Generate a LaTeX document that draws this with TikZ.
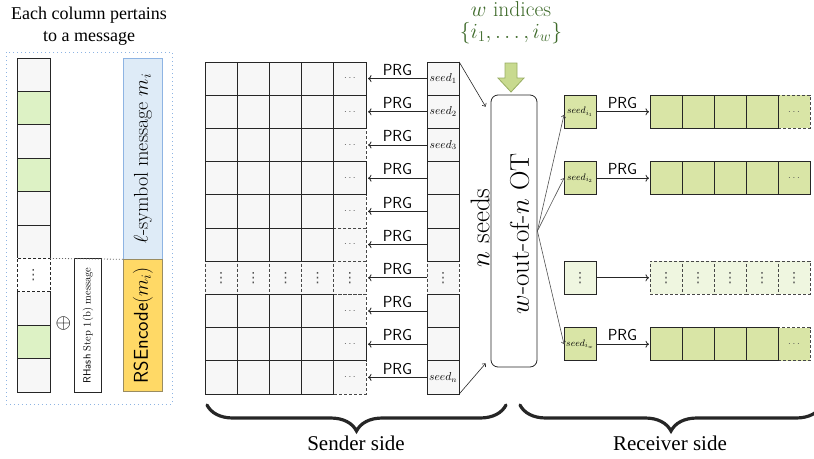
\RequirePackage{fix-cm}
\documentclass[tikz,border=0pt]{standalone}
\usepackage{fontspec}
\newfontfamily\timesf{Liberation Serif}
\newfontfamily\dvf{DejaVu Sans}
\usetikzlibrary{decorations.pathreplacing,arrows.meta,calc}
\definecolor{cellgray}{HTML}{F7F7F7}
\definecolor{lgreen}{HTML}{DDF2C5}
\definecolor{rgreen}{HTML}{D9E5A6}
\definecolor{rlgreen}{HTML}{EFF6E0}
\definecolor{bluefill}{HTML}{DEEBF7}
\definecolor{blueline}{HTML}{8EB4E3}
\definecolor{yellowfill}{HTML}{FFD966}
\definecolor{yellowline}{HTML}{9A8C60}
\definecolor{idxgreen}{HTML}{3E6A2A}
\definecolor{blockfill}{HTML}{C8DA8F}
\definecolor{blockline}{HTML}{98AD62}
\definecolor{ink}{HTML}{262626}
\newcommand{\vdt}{{\dvf ⋮}}
\begin{document}
\begin{tikzpicture}[x=1pt,y=-1pt,
  ln/.style={draw=ink,line width=0.8pt},
  gcell/.style={ln,fill=cellgray,minimum width=32.2pt,minimum height=33.2pt,inner sep=0pt,outer sep=0pt,anchor=north west},
  gdash/.style={gcell,draw=ink!85,dash pattern=on 3pt off 2pt},
  lcell/.style={ln,fill=cellgray,minimum width=33pt,minimum height=33.4pt,inner sep=0pt,outer sep=0pt,anchor=north west},
  rcell/.style={ln,fill=rgreen,minimum width=32pt,minimum height=33.2pt,inner sep=0pt,outer sep=0pt,anchor=north west},
  rdash/.style={rcell,draw=ink!85,dash pattern=on 3pt off 2pt},
  prgarrow/.style={draw=ink,dash pattern=on 200pt off 0pt,line width=0.85pt,-{To[length=3.5pt,width=7pt]}},
  fanarrow/.style={draw=ink!80,solid,line width=0.6pt,-{To[length=3pt,width=5pt]}},
  prglabel/.style={midway,above,yshift=2pt,inner sep=1pt,font=\sffamily\fontsize{16}{17}\selectfont},
  dotsf/.style={inner sep=0pt,font=\fontsize{10}{12}\selectfont,text=ink!80},
  vdotsf/.style={inner sep=0pt,font=\fontsize{14}{15}\selectfont,text=ink!80},
  seedf/.style={inner sep=0pt,font=\fontsize{11.5}{13}\selectfont},
  rseedf/.style={inner sep=0pt,font=\fontsize{9.5}{11}\selectfont},
  brace/.style={decorate,decoration={brace,amplitude=26pt},line width=3.2pt,draw=ink,line cap=round},
  bigtext/.style={font=\timesf\fontsize{21}{24}\selectfont}
]
\useasboundingbox (0,0) rectangle (814,458);
\clip (0,0) rectangle (814,458);

% ---------------- left panel ----------------
\node[font=\timesf\fontsize{18}{22}\selectfont,align=center] (title) at (89,26) {Each column pertains\\to a message};
\draw[blueline,line width=1pt,dash pattern=on 1.1pt off 2.9pt] (6,52) rectangle (172,404);

\foreach \k/\f in {1/cellgray,2/lgreen,3/cellgray,4/lgreen,5/cellgray,6/cellgray,8/cellgray,9/lgreen,10/cellgray}
  \node[lcell,fill=\f] (L\k) at (17,{58+33.4*(\k-1)}) {};
\node[lcell,fill=white,dash pattern=on 3pt off 2pt] (L7) at (17,{58+33.4*6}) {};
\node[vdotsf] (L7t) at (L7.center) {\vdt};

\node[draw=blueline,fill=bluefill,line width=0.8pt,minimum width=39pt,minimum height=200.5pt,inner sep=0pt,anchor=north west] (msg) at (123,58) {};
\node[rotate=90,inner sep=0pt,font=\fontsize{20}{24}\selectfont] (msgtext) at (msg.center) {$\ell$-symbol message $m_i$};
\node[draw=yellowline,fill=yellowfill,line width=0.8pt,minimum width=39pt,minimum height=132.5pt,inner sep=0pt,anchor=north west] (rs) at (123,258.5) {};
\node[rotate=90,inner sep=0pt,font=\fontsize{20}{24}\selectfont] (rstext) at (rs.center) {{\sffamily RSEncode}$(m_i)$};
\node[ln,fill=white,minimum width=27pt,minimum height=134pt,inner sep=0pt,anchor=north west] (rh) at (74,258) {};
\node[rotate=90,inner sep=0pt,font=\fontsize{10.5}{12}\selectfont] (rhtext) at (rh.center) {{\sffamily RHash} Step 1(b) message};
\node[font=\fontsize{20}{22}\selectfont,inner sep=0pt] (oplus) at (63.5,323) {$\oplus$};
\draw[ink!70,line width=0.8pt,dash pattern=on 1pt off 2pt] (L7.north east) -- (msg.south west);

% ---------------- sender grid ----------------
\foreach \r in {3,5,6,8,10}
  \node[gdash] (g\r-5) at ({205+32.2*4},{62+33.2*(\r-1)}) {};
\foreach \c in {1,...,5}
  \node[gdash] (g7-\c) at ({205+32.2*(\c-1)},{62+33.2*6}) {};
\foreach \r in {1,2,3,4,5,6,8,9,10}
  \foreach \c in {1,...,4}
    \node[gcell] (g\r-\c) at ({205+32.2*(\c-1)},{62+33.2*(\r-1)}) {};
\foreach \r in {1,2,4,9}
  \node[gcell] (g\r-5) at ({205+32.2*4},{62+33.2*(\r-1)}) {};
\foreach \r in {1,2,3,4,5,6,8,9,10}
  \node[dotsf] (g\r-5t) at (g\r-5.center) {$\cdots$};
\foreach \c in {1,...,5}
  \node[vdotsf] (g7-\c t) at (g7-\c.center) {\vdt};

% seeds
\node[gdash] (s7) at (427,{62+33.2*6}) {};
\node[vdotsf] (s7t) at (s7.center) {\vdt};
\foreach \r in {1,2,3,4,5,6,8,9,10}
  \node[gcell] (s\r) at (427,{62+33.2*(\r-1)}) {};
\foreach \r/\t in {1/1,2/2,3/3,10/n}
  \node[seedf] (s\r t) at (s\r.center) {$seed_{\t}$};

\foreach \r in {1,...,10}{
  \draw[prgarrow] (s\r.west) -- ([xshift=2pt]g\r-5.east) coordinate[midway] (m\r);
  \node[above,yshift=2pt,inner sep=1pt,font=\sffamily\fontsize{16}{17}\selectfont] (p\r) at (m\r) {PRG};
}

% ---------------- OT ----------------
\node[text=idxgreen,align=center,font=\fontsize{21.5}{24}\selectfont] (idx) at (511,23) {$w$ indices\\[-2pt]$\{i_1,\ldots,i_w\}$};
\draw[draw=blockline,fill=blockfill,line width=0.8pt] (505,63) -- (517,63) -- (517,78) -- (524,78) -- (511,92) -- (498,78) -- (505,78) -- cycle;

\node[ln,rounded corners=7pt,minimum width=46pt,minimum height=272pt,inner sep=0pt] (ot) at (514,231) {};
\node[rotate=90,inner sep=0pt,font=\fontsize{27}{30}\selectfont] (ottext) at (519.5,234) {$w$-out-of-$n$ OT};
\node[rotate=90,inner sep=0pt,font=\fontsize{27}{30}\selectfont] (nseeds) at (480,228) {$n$ seeds};

\draw[fanarrow,draw=ink] (s1.north east) -- ($(ot.north west)+(-5,12)$);
\draw[fanarrow,draw=ink] (s10.south east) -- ($(ot.south west)+(-5,-4)$);

% ---------------- receiver ----------------
\node[rdash] (ra-5) at ({650+32*4},{62+33.2*1}) {};
\foreach \j in {1,...,4} \node[rcell] (ra-\j) at ({650+32*(\j-1)},{62+33.2*1}) {};
\node[rcell] (ri1) at (564,{62+33.2*1}) {};
\foreach \j in {1,...,4} \node[rcell] (rb-\j) at ({650+32*(\j-1)},{62+33.2*3}) {};
\node[rcell] (rb-5) at ({650+32*4},{62+33.2*3}) {};
\node[rcell] (ri2) at (564,{62+33.2*3}) {};
\foreach \j in {1,...,5} \node[rdash,fill=rlgreen] (rc-\j) at ({650+32*(\j-1)},{62+33.2*6}) {};
\node[rcell,fill=rlgreen] (rid) at (564,{62+33.2*6}) {};
\node[rdash] (rd-5) at ({650+32*4},{62+33.2*8}) {};
\foreach \j in {1,...,4} \node[rcell] (rd-\j) at ({650+32*(\j-1)},{62+33.2*8}) {};
\node[rcell] (riw) at (564,{62+33.2*8}) {};

\node[rseedf] (ri1t) at (ri1.center) {$seed_{i_1}$};
\node[rseedf] (ri2t) at (ri2.center) {$seed_{i_2}$};
\node[rseedf] (riwt) at (riw.center) {$seed_{i_w}$};
\node[vdotsf] (ridt) at (rid.center) {\vdt};
\foreach \j in {1,...,5} \node[vdotsf] (rc-\j t) at (rc-\j.center) {\vdt};
\node[dotsf] (ra-5t) at (ra-5.center) {$\cdots$};
\node[dotsf] (rb-5t) at (rb-5.center) {$\cdots$};
\node[dotsf] (rd-5t) at (rd-5.center) {$\cdots$};

\draw[prgarrow] (ri1.east) -- ([xshift=-1pt]ra-1.west) node[prglabel] {PRG};
\draw[prgarrow] (ri2.east) -- ([xshift=-1pt]rb-1.west) node[prglabel] {PRG};
\draw[prgarrow] (rid.east) -- ([xshift=-1pt]rc-1.west);
\draw[prgarrow] (riw.east) -- ([xshift=-1pt]rd-1.west) node[prglabel] {PRG};

\coordinate (fan) at (ot.east);
\draw[fanarrow] (fan) -- ([yshift=-3pt]ri1.west);
\draw[fanarrow] (fan) -- (ri2.west);
\draw[fanarrow] (fan) -- (riw.west);

% ---------------- braces ----------------
\coordinate (sbR) at (506,405);
\coordinate (sbL) at (207,405);
\coordinate (rbR) at (822,405);
\coordinate (rbL) at (520,405);
\draw[brace] (sbR) -- (sbL);
\draw[brace] (rbR) -- (rbL);
\node[bigtext] (sender) at (356,443) {Sender side};
\node[bigtext] (receiver) at (670,443) {Receiver side};
\end{tikzpicture}
\end{document}
